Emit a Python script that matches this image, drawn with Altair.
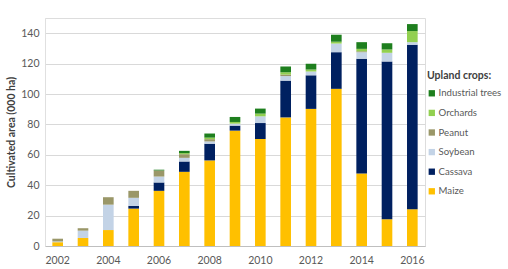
import altair as alt
import pandas as pd

years = [2002, 2003, 2004, 2005, 2006, 2007, 2008, 2009, 2010, 2011, 2012, 2013, 2014, 2015, 2016]
crops = ["Maize", "Cassava", "Soybean", "Peanut", "Orchards", "Industrial trees"]
legend_order = ["Industrial trees", "Orchards", "Peanut", "Soybean", "Cassava", "Maize"]
colors = ["#1E7F1E", "#92D050", "#9A9768", "#C3D3E6", "#002060", "#FFC000"]

maize = [2.5, 5.3, 10.5, 24.6, 36.3, 48.8, 56.3, 75.9, 70.4, 84.6, 90.2, 103.4, 47.7, 17.6, 24.2]
cassava = [0, 0, 0, 1.8, 5.5, 6.8, 11.0, 3.3, 10.5, 24.2, 22.1, 24.1, 75.5, 103.8, 108.2]
soybean = [0.5, 4.8, 16.7, 5.3, 3.9, 2.4, 1.5, 1.3, 4.4, 3.0, 2.5, 5.7, 4.3, 5.7, 1.7]
peanut = [1.8, 1.6, 4.9, 4.6, 4.0, 2.4, 1.5, 0, 0, 1.0, 0, 0, 0.6, 0, 0]
orchards = [0, 0, 0, 0, 0, 0.7, 1.0, 1.1, 1.8, 1.5, 1.3, 1.2, 1.6, 2.2, 7.3]
industrial = [0, 0, 0, 0, 0.5, 1.5, 2.7, 3.3, 3.3, 3.8, 3.8, 4.6, 4.4, 4.1, 4.6]

series = [maize, cassava, soybean, peanut, orchards, industrial]
rows = []
for ci, (crop, vals) in enumerate(zip(crops, series)):
    for y, v in zip(years, vals):
        rows.append({"year": str(y), "crop": crop, "value": v, "rank": ci})
df = pd.DataFrame(rows)

font = "Lato"
label_years = [str(y) for y in years if y % 2 == 0]

chart = alt.Chart(df).mark_bar().encode(
    x=alt.X("year:N", title=None,
            scale=alt.Scale(paddingInner=0.58, paddingOuter=0.29),
            axis=alt.Axis(values=label_years, labelAngle=0, ticks=False,
                          domainColor="#BFBFBF", labelPadding=9,
                          labelColor="#595959", labelFontSize=10.5, labelFont=font)),
    y=alt.Y("value:Q", title="Cultivated area (000 ha)", stack="zero",
            scale=alt.Scale(domain=[0, 150], nice=False),
            axis=alt.Axis(values=list(range(0, 141, 20)), ticks=False,
                          domain=True, domainColor="#E0E0E0",
                          gridColor="#D9D9D9", labelPadding=6,
                          labelColor="#595959", labelFontSize=10.5, labelFont=font,
                          titleFont=font, titleFontSize=10.5, titleFontWeight="bold",
                          titleColor="#404040", titlePadding=4)),
    color=alt.Color("crop:N",
                    scale=alt.Scale(domain=legend_order, range=colors),
                    legend=alt.Legend(title="Upland crops:", orient="none",
                                      legendX=382, legendY=53,
                                      symbolType="square", symbolSize=40,
                                      symbolStrokeWidth=0,
                                      titleFont=font, titleFontSize=10.5,
                                      titleFontWeight="bold", titleColor="#404040",
                                      titlePadding=7,
                                      labelFont=font, labelFontSize=9.6,
                                      labelColor="#595959", labelOffset=2,
                                      labelLimit=0,
                                      rowPadding=8.6)),
    order=alt.Order("rank:Q", sort="ascending"),
).properties(
    width=380, height=228,
    autosize=alt.AutoSizeParams(type="none"),
    padding={"left": 45, "top": 18, "right": 83, "bottom": 23},
).configure_view(stroke=None).configure(background="white")

chart.save("out.html", embed_options={"renderer": "svg", "actions": False})
